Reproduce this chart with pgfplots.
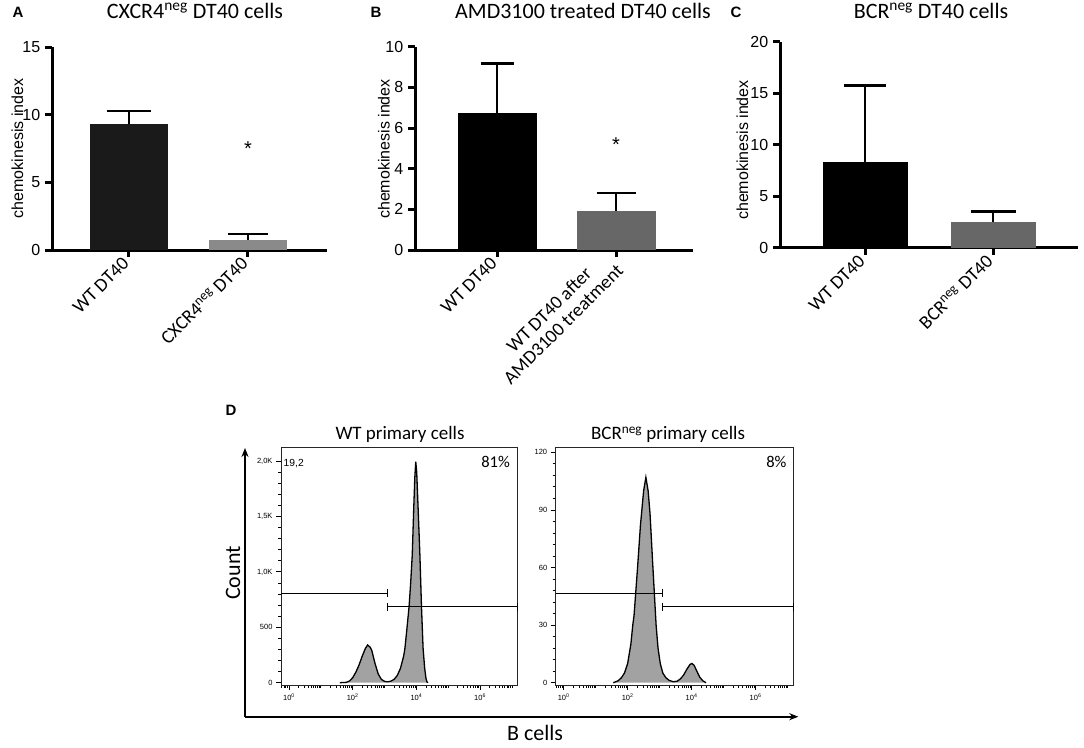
\documentclass[border=0pt]{standalone}
\usepackage{pgfplots}
\pgfplotsset{compat=1.18}
\usepackage{fontspec}
\setmainfont{Liberation Sans}
\newfontfamily\calfont{Carlito}
\usetikzlibrary{arrows.meta}
\definecolor{barA}{HTML}{1A1A1A}
\definecolor{barAg}{HTML}{8A8A8A}
\definecolor{barg}{HTML}{676767}
\definecolor{histg}{HTML}{A2A2A2}
\pgfplotsset{
  chemo/.style={scale only axis, axis lines*=left, line width=3pt,
    axis line style={line width=3pt},
    every outer x axis line/.append style={line width=3pt},
    every outer y axis line/.append style={line width=3pt},
    every inner x axis line/.append style={line width=3pt},
    every inner y axis line/.append style={line width=3pt},
    every tick/.append style={line width=3pt, black},
    major tick style={line width=3pt, black},
    major tick length=7pt, tick align=outside,
    xtick={0,1}, ymin=0, clip=false,
    x tick label style={font=\calfont\fontsize{19}{20}\selectfont, rotate=45, anchor=east, align=center},
    y tick label style={font=\fontsize{16}{16}\selectfont},
    /pgf/number format/assume math mode=true},
  flow/.style={scale only axis, xmin=-0.25, xmax=7.18,
    axis line style={line width=0.9pt, black!85},
    tick align=outside, xtick pos=bottom, ytick pos=left,
    major tick style={line width=0.8pt, black},
    minor tick style={line width=0.8pt, black},
    major tick length=5pt, minor tick length=3pt,
    xtick={0,2,4,6},
    xticklabels={10\textsuperscript{0},10\textsuperscript{2},10\textsuperscript{4},10\textsuperscript{6}},
    minor xtick={-0.222,-0.155,-0.097,-0.046,0.301,0.477,0.602,0.699,0.778,0.845,0.903,0.954,1,1.301,1.477,1.602,1.699,1.778,1.845,1.903,1.954,2.301,2.477,2.602,2.699,2.778,2.845,2.903,2.954,3,3.301,3.477,3.602,3.699,3.778,3.845,3.903,3.954,4.301,4.477,4.602,4.699,4.778,4.845,4.903,4.954,5,5.301,5.477,5.602,5.699,5.778,5.845,5.903,5.954,6.301,6.477,6.602,6.699,6.778,6.845,6.903,6.954,7},
    minor y tick num=4,
    ticklabel style={font=\fontsize{7.5}{8}\selectfont},
    /pgf/number format/assume math mode=true},
}
\begin{document}
\begin{tikzpicture}
\useasboundingbox (0pt,0pt) rectangle (1084pt,-747pt);
% ---------- Panel A ----------
\begin{axis}[chemo, at={(52pt,-250pt)}, anchor=south west,
  width=275pt, height=203pt, xmin=-0.647, xmax=1.664, ymax=15,
  ytick={0,5,10,15},
  xticklabels={WT DT40, CXCR4\textsuperscript{neg} DT40}]
\addplot[ybar, bar shift=0pt, bar width=78pt, fill=barA, draw=none,
  error bars/.cd, y dir=plus, y explicit, error mark=|,
  error bar style={line width=2.4pt, black},
  error mark options={line width=2.4pt, black, mark size=22pt}]
  coordinates {(0,9.3) +- (0,0.99)};
\addplot[ybar, bar shift=0pt, bar width=78pt, fill=barAg, draw=none,
  error bars/.cd, y dir=plus, y explicit, error mark=|,
  error bar style={line width=2.4pt, black},
  error mark options={line width=2.4pt, black, mark size=20pt}]
  coordinates {(1,0.74) +- (0,0.44)};
\node[anchor=base, font=\fontsize{20}{20}\selectfont] at (axis cs:1,7.0) {*};
\end{axis}
% ---------- Panel B ----------
\begin{axis}[chemo, at={(415pt,-250pt)}, anchor=south west,
  width=278pt, height=203.3pt, xmin=-0.689, xmax=1.647, ymax=10,
  ytick={0,2,4,6,8,10},
  xticklabels={WT DT40, {WT DT40 after\\AMD3100 treatment}}]
\addplot[ybar, bar shift=0pt, bar width=79pt, fill=black, draw=none,
  error bars/.cd, y dir=plus, y explicit, error mark=|,
  error bar style={line width=2.4pt, black},
  error mark options={line width=2.4pt, black, mark size=16.5pt}]
  coordinates {(0,6.75) +- (0,2.43)};
\addplot[ybar, bar shift=0pt, bar width=79pt, fill=barg, draw=none,
  error bars/.cd, y dir=plus, y explicit, error mark=|,
  error bar style={line width=2.4pt, black},
  error mark options={line width=2.4pt, black, mark size=19.5pt}]
  coordinates {(1,1.92) +- (0,0.87)};
\node[anchor=base, font=\fontsize{20}{20}\selectfont] at (axis cs:1,4.84) {*};
\end{axis}
% ---------- Panel C ----------
\begin{axis}[chemo, at={(780pt,-247.7pt)}, anchor=south west,
  width=298pt, height=206pt, xmin=-0.664, xmax=1.664, ymax=20,
  ytick={0,5,10,15,20},
  xticklabels={WT DT40, BCR\textsuperscript{neg} DT40}]
\addplot[ybar, bar shift=0pt, bar width=85pt, fill=black, draw=none,
  error bars/.cd, y dir=plus, y explicit, error mark=|,
  error bar style={line width=2.4pt, black},
  error mark options={line width=2.4pt, black, mark size=21pt}]
  coordinates {(0,8.29) +- (0,7.44)};
\addplot[ybar, bar shift=0pt, bar width=85pt, fill=barg, draw=none,
  error bars/.cd, y dir=plus, y explicit, error mark=|,
  error bar style={line width=2.4pt, black},
  error mark options={line width=2.4pt, black, mark size=22.5pt}]
  coordinates {(1,2.52) +- (0,0.98)};
\end{axis}
% ---------- Panel D left ----------
\begin{axis}[flow, at={(281pt,-685pt)}, anchor=south west,
  width=236.7pt, height=237.3pt, ymin=-21, ymax=2121,
  ytick={0,500,1000,1500,2000}, yticklabels={0,500,{1,0K},{1,5K},{2,0K}}]
\addplot[fill=histg, draw=none] coordinates {(1.6,0) (1.8,3) (1.9,15) (2.0,45) (2.1,95) (2.2,160) (2.3,240) (2.4,310) (2.47,340) (2.55,320) (2.6,290) (2.7,175) (2.8,80) (2.9,30) (3.0,12) (3.1,8) (3.2,14) (3.3,30) (3.4,65) (3.5,130) (3.6,240) (3.64,310) (3.7,480) (3.77,686) (3.82,900) (3.87,1153) (3.92,1604) (3.95,1850) (3.98,1995) (4.01,1900) (4.05,1604) (4.11,1153) (4.16,686) (4.21,310) (4.26,130) (4.3,40) (4.33,8) (4.36,0)} \closedcycle;
\addplot[black, line width=1.3pt] coordinates {(1.6,0) (1.8,3) (1.9,15) (2.0,45) (2.1,95) (2.2,160) (2.3,240) (2.4,310) (2.47,340) (2.55,320) (2.6,290) (2.7,175) (2.8,80) (2.9,30) (3.0,12) (3.1,8) (3.2,14) (3.3,30) (3.4,65) (3.5,130) (3.6,240) (3.64,310) (3.7,480) (3.77,686) (3.82,900) (3.87,1153) (3.92,1604) (3.95,1850) (3.98,1995) (4.01,1900) (4.05,1604) (4.11,1153) (4.16,686) (4.21,310) (4.26,130) (4.3,40) (4.33,8) (4.36,0)};
\addplot[black, line width=1.3pt, mark=|, mark size=4pt, mark indices={2}] coordinates {(-0.25,807) (3.1,807)};
\addplot[black, line width=1.3pt, mark=|, mark size=4pt] coordinates {(3.1,686) (7.18,686)};
\end{axis}
% ---------- Panel D right ----------
\begin{axis}[flow, at={(555.7pt,-685pt)}, anchor=south west,
  width=237.6pt, height=237.3pt, ymin=-1.2, ymax=122.4,
  ytick={0,30,60,90,120}]
\addplot[fill=histg, draw=none] coordinates {(1.55,0) (1.7,1) (1.8,2.5) (1.9,5) (2.0,10) (2.1,20) (2.16,30) (2.2,35) (2.31,60) (2.4,82) (2.5,100) (2.57,107) (2.64,100) (2.7,88) (2.79,60) (2.89,30) (2.95,18) (3.02,10) (3.1,5) (3.2,2.5) (3.3,1.2) (3.43,0.5) (3.55,0.8) (3.65,2) (3.75,4) (3.85,7) (3.95,9.5) (4.01,10) (4.08,9) (4.15,6.5) (4.25,3) (4.35,1) (4.45,0)} \closedcycle;
\addplot[black, line width=1.3pt] coordinates {(1.55,0) (1.7,1) (1.8,2.5) (1.9,5) (2.0,10) (2.1,20) (2.16,30) (2.2,35) (2.31,60) (2.4,82) (2.5,100) (2.57,107) (2.64,100) (2.7,88) (2.79,60) (2.89,30) (2.95,18) (3.02,10) (3.1,5) (3.2,2.5) (3.3,1.2) (3.43,0.5) (3.55,0.8) (3.65,2) (3.75,4) (3.85,7) (3.95,9.5) (4.01,10) (4.08,9) (4.15,6.5) (4.25,3) (4.35,1) (4.45,0)};
\addplot[black, line width=1.3pt, mark=|, mark size=4pt, mark indices={2}] coordinates {(-0.25,46.5) (3.1,46.5)};
\addplot[black, line width=1.3pt, mark=|, mark size=4pt] coordinates {(3.1,39.6) (7.18,39.6)};
\end{axis}
% ---------- texts ----------
\node[anchor=base west, font=\bfseries\fontsize{15}{15}\selectfont] at (9pt,-17pt) {A};
\node[anchor=base west, font=\bfseries\fontsize{15}{15}\selectfont] at (367pt,-17pt) {B};
\node[anchor=base west, font=\bfseries\fontsize{15}{15}\selectfont] at (727pt,-17pt) {C};
\node[anchor=base west, font=\bfseries\fontsize{15}{15}\selectfont] at (222pt,-415pt) {D};
\node[anchor=base, font=\calfont\fontsize{22}{24}\selectfont] at (195pt,-18.5pt) {CXCR4\textsuperscript{neg} DT40 cells};
\node[anchor=base, font=\calfont\fontsize{22}{24}\selectfont] at (583pt,-18.5pt) {AMD3100 treated DT40 cells};
\node[anchor=base, font=\calfont\fontsize{22}{24}\selectfont] at (931pt,-18.5pt) {BCR\textsuperscript{neg} DT40 cells};
\node[rotate=90, font=\fontsize{16}{16}\selectfont] at (17.5pt,-148.5pt) {chemokinesis index};
\node[rotate=90, font=\fontsize{16}{16}\selectfont] at (384pt,-149pt) {chemokinesis index};
\node[rotate=90, font=\fontsize{16}{16}\selectfont] at (742.5pt,-150pt) {chemokinesis index};
\node[anchor=base, font=\calfont\fontsize{19}{20}\selectfont] at (400pt,-439.3pt) {WT primary cells};
\node[anchor=base, font=\calfont\fontsize{19}{20}\selectfont] at (668pt,-439.3pt) {BCR\textsuperscript{neg} primary cells};
\node[anchor=west, inner sep=0pt, font=\fontsize{10.3}{11}\selectfont] at (283.5pt,-464pt) {19,2};
\node[anchor=east, inner sep=0pt, font=\calfont\fontsize{16.5}{17}\selectfont] at (510pt,-461.7pt) {81\%};
\node[anchor=east, inner sep=0pt, font=\calfont\fontsize{16.5}{17}\selectfont] at (786.7pt,-461.7pt) {8\%};
\node[rotate=90, font=\calfont\fontsize{22}{22}\selectfont] at (233pt,-573pt) {Count};
\node[anchor=base, font=\calfont\fontsize{22}{22}\selectfont] at (535pt,-740pt) {B cells};
\draw[line width=1.8pt, -{Stealth[length=9pt,width=7pt]}] (245pt,-716.7pt) -- (245pt,-448pt);
\draw[line width=1.8pt, -{Stealth[length=9pt,width=7pt]}] (245pt,-716.7pt) -- (798.3pt,-716.7pt);
\end{tikzpicture}
\end{document}
